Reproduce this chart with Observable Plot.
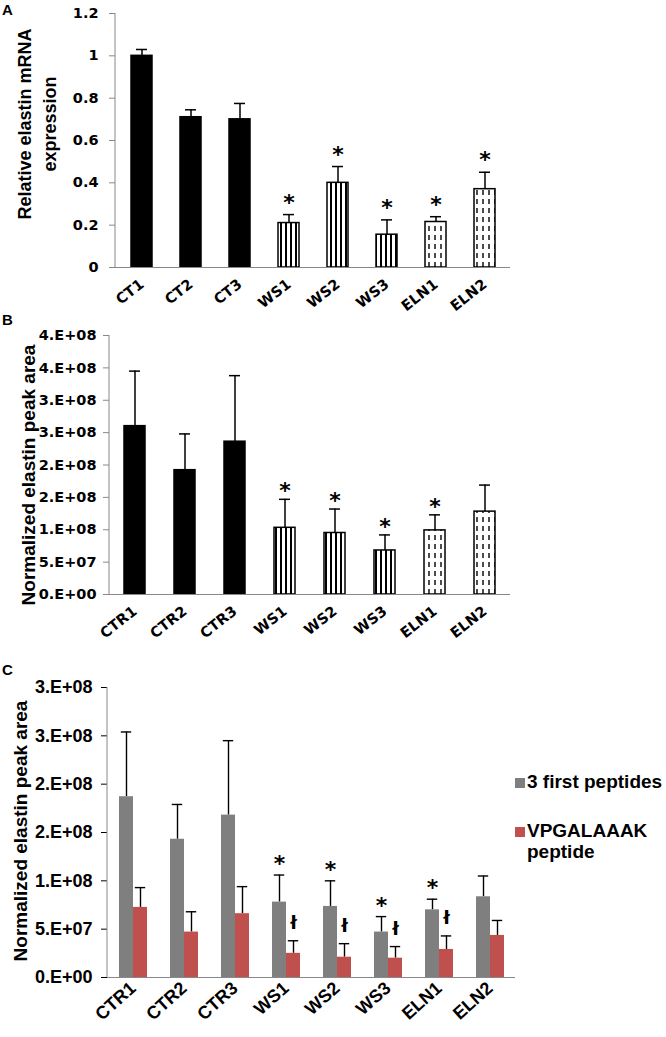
<!DOCTYPE html>
<html>
<head>
<meta charset="utf-8">
<script src="https://cdn.jsdelivr.net/npm/d3@7"></script>
<script src="https://cdn.jsdelivr.net/npm/@observablehq/plot@0.6"></script>
<style>
  html, body { margin: 0; padding: 0; background: #fff; }
  #root { position: relative; width: 666px; height: 1037px; overflow: hidden; background: #fff; }
  #root svg { position: absolute; left: 0; background: transparent !important; overflow: visible; }
  #root svg g[aria-label="y-axis tick"] { stroke: #888; }
  .letter { position: absolute; left: 2px; font: bold 15px "Liberation Sans", Arial, sans-serif; line-height: 1; }
  .ylab { position: absolute; transform: translate(-50%, -50%) rotate(-90deg); font: bold 19px "Liberation Sans", Arial, sans-serif; white-space: pre; text-align: center; line-height: 25px; }
  .legend { position: absolute; left: 515px; font: bold 19px "Liberation Sans", Arial, sans-serif; }
  .legend .item { display: flex; align-items: flex-start; margin-bottom: 28px; }
  .legend .sw { width: 10px; height: 10px; margin: 7px 2px 0 0; flex: none; }
  .legend .tx { white-space: pre; line-height: 21px; }
</style>
</head>
<body>
<div id="root"></div>
<script>
// ---------------- Panel A data ----------------
const catsA = ["CT1", "CT2", "CT3", "WS1", "WS2", "WS3", "ELN1", "ELN2"];
const groupA = ["CT", "CT", "CT", "WS", "WS", "WS", "ELN", "ELN"];
const meanA = [1.00, 0.71, 0.70, 0.21, 0.40, 0.155, 0.215, 0.37];
const sdA = [0.03, 0.035, 0.075, 0.04, 0.077, 0.07, 0.025, 0.08];
const sigA = ["", "", "", "*", "*", "*", "*", "*"];
const yTicksA = [0, 0.2, 0.4, 0.6, 0.8, 1.0, 1.2];
const yTickLabelsA = ["0", "0.2", "0.4", "0.6", "0.8", "1", "1.2"];
const yTitleA = "Relative elastin mRNA\nexpression";

// ---------------- Panel B data ----------------
const catsB = ["CTR1", "CTR2", "CTR3", "WS1", "WS2", "WS3", "ELN1", "ELN2"];
const groupB = ["CT", "CT", "CT", "WS", "WS", "WS", "ELN", "ELN"];
const meanB = [2.60e8, 1.92e8, 2.36e8, 1.03e8, 0.95e8, 0.68e8, 0.99e8, 1.28e8];
const sdB = [0.85e8, 0.56e8, 1.02e8, 0.44e8, 0.37e8, 0.24e8, 0.24e8, 0.41e8];
const sigB = ["", "", "", "*", "*", "*", "*", ""];
const yTicksB = [0, 5e7, 1e8, 1.5e8, 2e8, 2.5e8, 3e8, 3.5e8, 4e8];
const yTickLabelsB = ["0.E+00", "5.E+07", "1.E+08", "2.E+08", "2.E+08", "3.E+08", "3.E+08", "4.E+08", "4.E+08"];
const yTitleB = "Normalized elastin peak area";

// ---------------- Panel C data ----------------
const catsC = ["CTR1", "CTR2", "CTR3", "WS1", "WS2", "WS3", "ELN1", "ELN2"];
const seriesC = ["3 first peptides", "VPGALAAAK\npeptide"];
const meanC1 = [1.87e8, 1.43e8, 1.68e8, 0.78e8, 0.735e8, 0.47e8, 0.70e8, 0.835e8];
const sdC1 = [0.67e8, 0.36e8, 0.77e8, 0.28e8, 0.265e8, 0.16e8, 0.11e8, 0.215e8];
const sigC1 = ["", "", "", "*", "*", "*", "*", ""];
const meanC2 = [0.725e8, 0.47e8, 0.66e8, 0.25e8, 0.21e8, 0.20e8, 0.29e8, 0.435e8];
const sdC2 = [0.205e8, 0.21e8, 0.28e8, 0.13e8, 0.14e8, 0.12e8, 0.14e8, 0.155e8];
const sigC2 = ["", "", "", "ł", "ł", "ł", "ł", ""];
const yTicksC = [0, 5e7, 1e8, 1.5e8, 2e8, 2.5e8, 3e8];
const yTickLabelsC = ["0.E+00", "5.E+07", "1.E+08", "2.E+08", "2.E+08", "3.E+08", "3.E+08"];
const yTitleC = "Normalized elastin peak area";

// ---------------- styles ----------------
const W = 666;
const colorsC = ["#7f7f7f", "#c0504d"];
const AXIS = "#888";
const root = document.getElementById("root");

function addPatterns(svg, p) {
  const defs = d3.select(svg).insert("defs", ":first-child");
  const s = defs.append("pattern").attr("id", p + "-stripe").attr("patternUnits", "userSpaceOnUse")
    .attr("width", 5).attr("height", 10);
  s.append("rect").attr("width", 5).attr("height", 10).attr("fill", "white");
  s.append("rect").attr("width", 2).attr("height", 10).attr("fill", "black");
  const d = defs.append("pattern").attr("id", p + "-dash").attr("patternUnits", "userSpaceOnUse")
    .attr("width", 6).attr("height", 9);
  d.append("rect").attr("width", 6).attr("height", 9).attr("fill", "white");
  d.append("line").attr("x1", 3).attr("x2", 3).attr("y1", 1).attr("y2", 6)
    .attr("stroke", "black").attr("stroke-width", 1.4);
}

function addYAxisLine(chart, xScaleName) {
  const y = chart.scale("y");
  const xs = chart.scale(xScaleName);
  const x0 = xs.range[0];
  d3.select(chart).append("line")
    .attr("x1", x0).attr("x2", x0).attr("y1", y.range[0]).attr("y2", y.range[1])
    .attr("stroke", AXIS).attr("stroke-width", 1);
}

function place(el, top) { el.style.top = top + "px"; root.appendChild(el); }

function label(text, cls, css) {
  const d = document.createElement("div");
  d.className = cls; d.textContent = text;
  Object.assign(d.style, css);
  root.appendChild(d);
}

function barPanel(cfg) {
  const data = cfg.cats.map((c, i) => ({cat: c, group: cfg.groups[i], mean: cfg.mean[i], top: cfg.mean[i] + cfg.sd[i], sig: cfg.sig[i]}));
  const p = cfg.prefix;
  const fillOf = d => d.group === "CT" ? "black" : d.group === "WS" ? `url(#${p}-stripe)` : `url(#${p}-dash)`;
  const step = (W - cfg.ml - cfg.mr) / cfg.cats.length;
  const bw = step * (1 - cfg.pad);
  const capInset = (bw - 11) / 2;
  const chart = Plot.plot({
    width: W, height: cfg.height,
    marginTop: cfg.mt, marginBottom: cfg.mb, marginLeft: cfg.ml, marginRight: cfg.mr,
    style: {fontFamily: "DejaVu Sans", fontWeight: "bold", fontSize: "14.5px", color: "black", background: "transparent", overflow: "visible"},
    x: {domain: cfg.cats, paddingInner: cfg.pad, paddingOuter: cfg.pad / 2, tickSize: 0, tickRotate: -38, tickPadding: cfg.xpad, label: null},
    y: {domain: [cfg.yTicks[0], cfg.yTicks[cfg.yTicks.length - 1]], ticks: cfg.yTicks,
        tickFormat: d => cfg.yLabels[cfg.yTicks.indexOf(d)], tickSize: 6, tickPadding: cfg.ypad, label: null},
    color: {type: "identity"},
    marks: [
      Plot.ruleX(data, {x: "cat", y1: "mean", y2: "top", stroke: "black", strokeWidth: 1.5}),
      Plot.tickY(data, {x: "cat", y: "top", stroke: "black", strokeWidth: 1.5, insetLeft: capInset, insetRight: capInset}),
      Plot.barY(data, {x: "cat", y: "mean", fill: fillOf, stroke: "black", strokeWidth: 1.5}),
      Plot.ruleY([0], {stroke: AXIS}),
      Plot.text(data, {filter: d => d.sig, x: "cat", y: "top", text: "sig", dy: cfg.starDy, fontSize: 22, fontFamily: "DejaVu Sans", fontWeight: "bold", lineAnchor: "bottom"})
    ]
  });
  addPatterns(chart, p);
  addYAxisLine(chart, "x");
  place(chart, cfg.top);
  return chart;
}

// Panel A
barPanel({prefix: "pa", cats: catsA, groups: groupA, mean: meanA, sd: sdA, sig: sigA,
  yTicks: yTicksA, yLabels: yTickLabelsA, top: 0, height: 307, mt: 13, mb: 40, ml: 115, mr: 156,
  pad: 0.575, xpad: 15, ypad: 11, starDy: -5});
// Panel B
barPanel({prefix: "pb", cats: catsB, groups: groupB, mean: meanB, sd: sdB, sig: sigB,
  yTicks: yTicksB, yLabels: yTickLabelsB, top: 300, height: 334, mt: 35, mb: 40, ml: 109, mr: 156,
  pad: 0.58, xpad: 15, ypad: 7, starDy: -1});

// Panel C
const dataC = [];
catsC.forEach((c, i) => {
  dataC.push({cat: c, series: seriesC[0], mean: meanC1[i], top: meanC1[i] + sdC1[i], sig: sigC1[i]});
  dataC.push({cat: c, series: seriesC[1], mean: meanC2[i], top: meanC2[i] + sdC2[i], sig: sigC2[i]});
});
const colorOf = d => colorsC[seriesC.indexOf(d.series)];
const chartC = Plot.plot({
  width: W, height: 387, marginTop: 47, marginBottom: 50, marginLeft: 107, marginRight: 151,
  style: {fontFamily: "Liberation Sans", fontWeight: "bold", fontSize: "18px", color: "black", background: "transparent", overflow: "visible"},
  facet: {data: dataC, x: "cat"},
  fx: {domain: catsC, padding: 0, tickRotate: -42, tickSize: 0, tickPadding: 8, label: null, axis: "bottom", fontSize: 17},
  x: {domain: seriesC, paddingInner: 0, paddingOuter: 0.76, axis: null},
  y: {domain: [0, 3e8], ticks: yTicksC, tickFormat: d => yTickLabelsC[yTicksC.indexOf(d)], tickSize: 6, tickPadding: 9, label: null},
  color: {type: "identity"},
  marks: [
    Plot.ruleX(dataC, {x: "series", y1: "mean", y2: "top", stroke: "black", strokeWidth: 1.4}),
    Plot.tickY(dataC, {x: "series", y: "top", stroke: "black", strokeWidth: 1.4, insetLeft: 1.8, insetRight: 1.8}),
    Plot.barY(dataC, {x: "series", y: "mean", fill: colorOf}),
    Plot.ruleY([0], {stroke: AXIS}),
    Plot.text(dataC, {filter: d => d.sig === "*", x: "series", y: "top", text: "sig", dy: -4, fontSize: 22, fontFamily: "DejaVu Sans", fontWeight: "bold", lineAnchor: "bottom"}),
    Plot.text(dataC, {filter: d => d.sig && d.sig !== "*", x: "series", y: "top", text: "sig", dy: -12, fontSize: 18, fontFamily: "DejaVu Sans", fontWeight: "bold", lineAnchor: "bottom"})
  ]
});
addYAxisLine(chartC, "fx");
place(chartC, 640);

// panel letters and axis titles
label("A", "letter", {top: "2px"});
label("B", "letter", {top: "312px"});
label("C", "letter", {top: "662px"});
label(yTitleA, "ylab", {left: "38px", top: "124px", fontSize: "18px"});
label(yTitleB, "ylab", {left: "28px", top: "475px"});
label(yTitleC, "ylab", {left: "20px", top: "831px"});

// legend for panel C
const leg = document.createElement("div");
leg.className = "legend";
leg.style.top = "771px";
seriesC.forEach((s, i) => {
  const it = document.createElement("div"); it.className = "item";
  const sw = document.createElement("div"); sw.className = "sw"; sw.style.background = colorsC[i];
  const tx = document.createElement("div"); tx.className = "tx"; tx.textContent = s;
  it.appendChild(sw); it.appendChild(tx); leg.appendChild(it);
});
root.appendChild(leg);
</script>
</body>
</html>
